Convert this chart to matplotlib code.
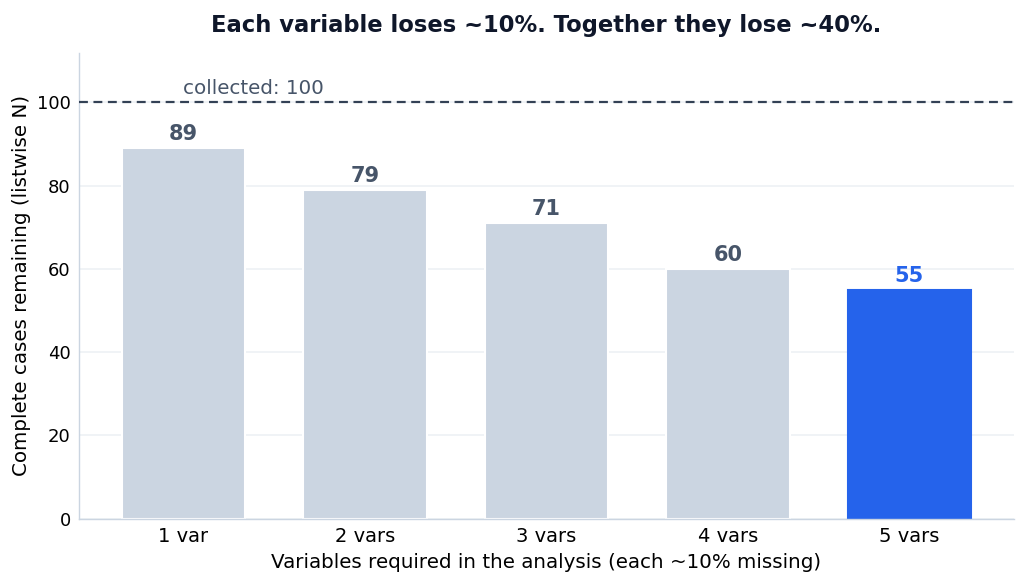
import matplotlib
matplotlib.use("Agg")
import matplotlib.pyplot as plt

categories = ["1 var", "2 vars", "3 vars", "4 vars", "5 vars"]
values = [89, 79, 71, 60, 55]
collected = 100

gray = "#CBD5E1"
blue = "#2563EB"
colors = [gray] * 4 + [blue]
label_colors = ["#475569"] * 4 + [blue]

fig, ax = plt.subplots(figsize=(10.27, 5.84), dpi=100)
x = range(len(categories))
bars = ax.bar(x, values, width=0.68, color=colors, edgecolor=["white"] * 4 + [blue],
              linewidth=1.5, zorder=2)
for xi, v, c in zip(x, values, label_colors):
    ax.text(xi, v + 1.0, str(v), ha="center", va="bottom", fontsize=15,
            fontweight="bold", color=c, zorder=3)

ax.axhline(collected, color="#334155", linestyle=(0, (4, 2.5)), linewidth=1.6, zorder=3)
ax.text(0, collected + 1.0, f"collected: {collected}", ha="left", va="bottom",
        fontsize=14.3, color="#475569")

ax.set_ylim(0, 112)
ax.set_xticks(list(x))
ax.set_xticklabels(categories, fontsize=14)
ax.tick_params(axis="y", labelsize=13)
ax.tick_params(length=0, pad=6)
ax.yaxis.grid(True, color="#EEF1F5", linewidth=1.2, zorder=0)
ax.set_axisbelow(True)
for s in ["top", "right"]:
    ax.spines[s].set_visible(False)
for s in ["left", "bottom"]:
    ax.spines[s].set_color("#CBD5E1")
    ax.spines[s].set_linewidth(1)

ax.set_xlabel("Variables required in the analysis (each ~10% missing)", fontsize=14.3,
              labelpad=5)
ax.set_ylabel("Complete cases remaining (listwise N)", fontsize=14.3)
ax.set_title("Each variable loses ~10%. Together they lose ~40%.", fontsize=16.3,
             fontweight="bold", color="#0F172A", pad=14.5)

fig.subplots_adjust(left=0.077, right=0.987, top=0.91, bottom=0.112)
fig.savefig("out.png", dpi=100)
